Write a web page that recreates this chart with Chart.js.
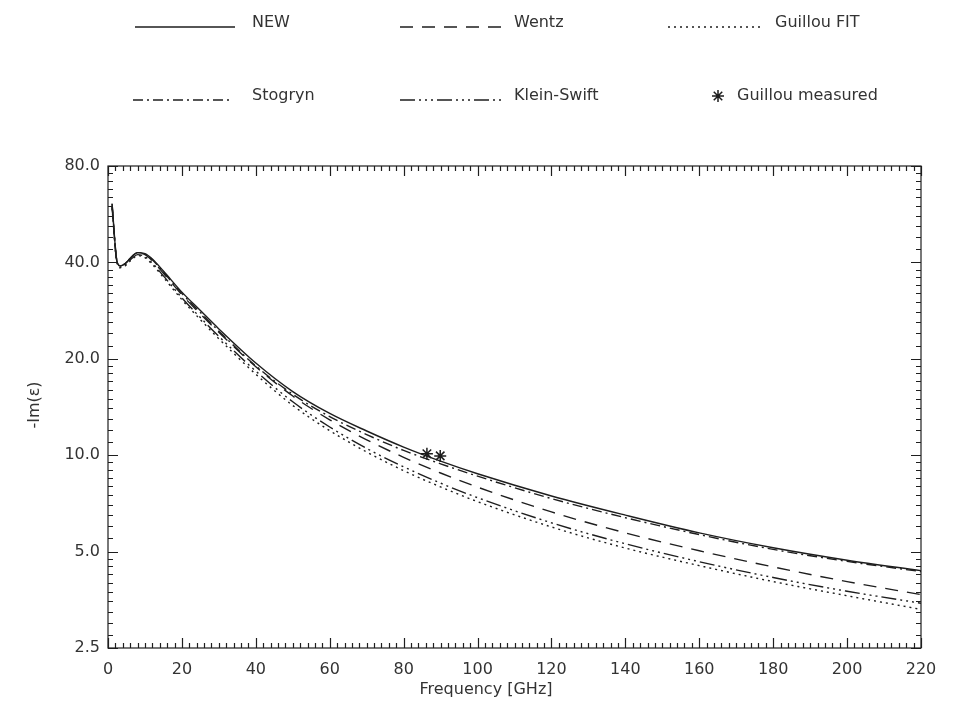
<!DOCTYPE html>
<html>
<head>
<meta charset="utf-8">
<script src="https://cdn.jsdelivr.net/npm/chart.js@4.4.1/dist/chart.umd.min.js"></script>
<style>
  html, body { margin: 0; padding: 0; background: #fff; }
  canvas { display: block; }
</style>
</head>
<body>
<canvas id="chart" width="961" height="713"></canvas>
<script>
// frequencies (GHz) and -Im(eps)
const freq = [1.1, 2.4, 3.3, 5, 6.5, 8, 10, 12, 15, 20, 25, 30, 40, 50, 60, 70, 80, 90, 100, 120, 140, 160, 180, 200, 220];
const newModel   = [61, 40.5, 39.0, 40.0, 41.8, 42.9, 42.6, 41.0, 37.6, 32.3, 28.3, 24.8, 19.4, 15.8, 13.5, 11.9, 10.6, 9.58, 8.75, 7.46, 6.5, 5.72, 5.14, 4.7, 4.36];
const wentz      = [60, 40.3, 38.9, 40.0, 41.7, 42.8, 42.3, 40.5, 37.0, 31.7, 27.6, 24.2, 18.9, 15.3, 12.9, 11.17, 9.85, 8.8, 7.95, 6.65, 5.72, 5.03, 4.48, 4.03, 3.67];
const guillouFit = [59, 40.0, 38.5, 39.3, 40.9, 42.0, 41.4, 39.4, 35.9, 30.6, 26.5, 23.1, 17.9, 14.3, 11.93, 10.23, 8.95, 7.96, 7.16, 5.97, 5.13, 4.52, 4.03, 3.64, 3.30];
const stogryn    = [61, 40.5, 39.0, 40.0, 41.8, 42.9, 42.5, 40.8, 37.3, 32.0, 27.9, 24.4, 19.0, 15.5, 13.2, 11.6, 10.35, 9.4, 8.6, 7.32, 6.38, 5.65, 5.08, 4.66, 4.33];
const kleinSwift = [60, 40.2, 38.7, 39.6, 41.2, 42.3, 41.7, 39.8, 36.3, 31.0, 26.9, 23.5, 18.3, 14.68, 12.25, 10.5, 9.2, 8.18, 7.37, 6.15, 5.29, 4.65, 4.15, 3.76, 3.45];
const measFreq = [86.3, 89.9];
const measVals = [10.1, 9.95];

const yTicks = [2.5, 5, 10, 20, 40, 80];
const xMax = 220;

const INK = "#1e1e1e", TXT = "#333";
const FONT = "DejaVu Sans, sans-serif";

const DASH = {
  solid: [],
  dashed: [13, 9],
  dotted: [2, 4],
  dashDot: [10, 4, 2, 4],
  dashDot3: [15, 4, 2, 4, 2, 4, 2, 4]
};

const pts = ys => freq.map((f, i) => ({ x: f, y: ys[i] }));
const line = (label, ys, dash) => ({
  label, data: pts(ys), borderColor: INK, borderWidth: 1.4, borderDash: dash,
  pointRadius: 0, fill: false, cubicInterpolationMode: "monotone"
});

// box, inward ticks, axis titles, legend
const framePlugin = {
  id: "frame",
  afterDraw(chart) {
    const { ctx, chartArea: a, scales: { x, y } } = chart;
    ctx.save();
    ctx.strokeStyle = INK; ctx.lineWidth = 1.2; ctx.setLineDash([]);
    ctx.strokeRect(a.left, a.top, a.right - a.left, a.bottom - a.top);

    ctx.beginPath();
    for (let v = 0; v <= xMax; v += 2) {
      const px = Math.round(x.getPixelForValue(v)) + 0.5;
      const len = v % 20 === 0 ? 10 : 5;
      ctx.moveTo(px, a.bottom); ctx.lineTo(px, a.bottom - len);
      ctx.moveTo(px, a.top); ctx.lineTo(px, a.top + len);
    }
    yTicks.forEach((v, i) => {
      const minors = i < yTicks.length - 1 ? [1,2,3,4,5,6,7,8,9].map(k => v + k * v / 10) : [];
      const py = Math.round(y.getPixelForValue(v)) + 0.5;
      ctx.moveTo(a.left, py); ctx.lineTo(a.left + 10, py);
      ctx.moveTo(a.right, py); ctx.lineTo(a.right - 10, py);
      minors.forEach(m => {
        const my = Math.round(y.getPixelForValue(m)) + 0.5;
        ctx.moveTo(a.left, my); ctx.lineTo(a.left + 5, my);
        ctx.moveTo(a.right, my); ctx.lineTo(a.right - 5, my);
      });
    });
    ctx.stroke();

    // axis titles
    ctx.fillStyle = TXT;
    ctx.font = `16px ${FONT}`;
    ctx.textAlign = "center"; ctx.textBaseline = "middle";
    ctx.fillText("Frequency [GHz]", 486, 690);
    ctx.save();
    ctx.translate(35, 405); ctx.rotate(-Math.PI / 2);
    ctx.fillText("-Im(ε)", 0, 0);
    ctx.restore();

    // legend
    const items = [
      { t: "NEW",         dash: DASH.solid,    x0: 135, x1: 235, tx: 252, y: 23 },
      { t: "Wentz",       dash: DASH.dashed,   x0: 400, x1: 505, tx: 514, y: 23 },
      { t: "Guillou FIT", dash: DASH.dotted,   x0: 668, x1: 762, tx: 775, y: 23 },
      { t: "Stogryn",     dash: DASH.dashDot,  x0: 133, x1: 233, tx: 252, y: 96 },
      { t: "Klein-Swift", dash: DASH.dashDot3, x0: 400, x1: 505, tx: 514, y: 96 }
    ];
    ctx.textAlign = "left";
    items.forEach(it => {
      ctx.beginPath(); ctx.setLineDash(it.dash); ctx.lineWidth = 1.4;
      ctx.moveTo(it.x0, it.y + 4); ctx.lineTo(it.x1, it.y + 4); ctx.stroke();
      ctx.fillText(it.t, it.tx, it.y);
    });
    ctx.setLineDash([]);
    drawStar(ctx, 718, 96, 6);
    ctx.fillText("Guillou measured", 737, 96);
    ctx.restore();
  }
};

function drawStar(ctx, cx, cy, r) {
  ctx.beginPath(); ctx.lineWidth = 1.5;
  for (let k = 0; k < 4; k++) {
    const ang = k * Math.PI / 4;
    ctx.moveTo(cx - r * Math.cos(ang), cy - r * Math.sin(ang));
    ctx.lineTo(cx + r * Math.cos(ang), cy + r * Math.sin(ang));
  }
  ctx.stroke();
}

new Chart(document.getElementById("chart"), {
  type: "line",
  data: {
    datasets: [
      line("NEW", newModel, DASH.solid),
      line("Wentz", wentz, DASH.dashed),
      line("Guillou FIT", guillouFit, DASH.dotted),
      line("Stogryn", stogryn, DASH.dashDot),
      line("Klein-Swift", kleinSwift, DASH.dashDot3),
      {
        label: "Guillou measured", data: measFreq.map((f, i) => ({ x: f, y: measVals[i] })),
        showLine: false, pointStyle: "star", pointRadius: 6, borderColor: INK, borderWidth: 1.5,
        backgroundColor: INK
      }
    ]
  },
  options: {
    responsive: false, animation: false, devicePixelRatio: 1,
    layout: { padding: { top: 166, right: 40, left: 0, bottom: 0 } },
    plugins: { legend: { display: false }, tooltip: { enabled: false } },
    scales: {
      x: {
        type: "linear", min: 0, max: xMax,
        grid: { display: false, drawTicks: false }, border: { display: false },
        ticks: { stepSize: 20, padding: 12, color: TXT, font: { family: FONT, size: 16 } },
        afterFit: s => { s.height = 65; }
      },
      y: {
        type: "logarithmic", min: 2.5, max: 80,
        grid: { display: false, drawTicks: false }, border: { display: false },
        afterBuildTicks: s => { s.ticks = yTicks.map(v => ({ value: v })); },
        ticks: { padding: 8, color: TXT, font: { family: FONT, size: 16 }, callback: v => Number(v).toFixed(1) },
        afterFit: s => { s.width = 108; }
      }
    }
  },
  plugins: [framePlugin]
});
</script>
</body>
</html>
